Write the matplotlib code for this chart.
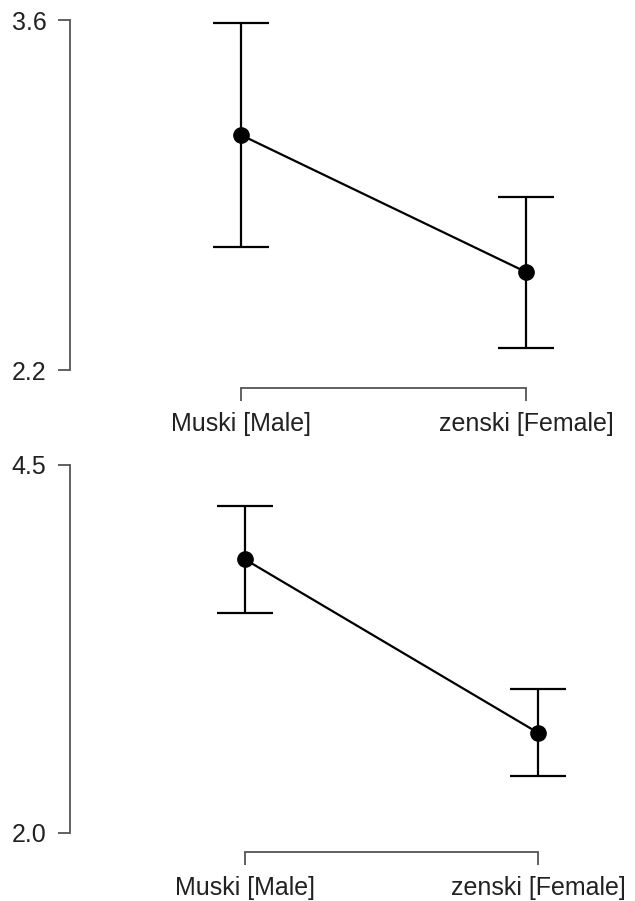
import numpy as np
from matplotlib import pyplot as plt

groups = ["Muski [Male]", "zenski [Female]"]

# panel 1
top_means = [3.14, 2.592]
top_err = [0.448, 0.302]
top_ylim = (2.2, 3.6)

# panel 2
bot_means = [3.859, 2.681]
bot_err = [0.365, 0.295]
bot_ylim = (2.0, 4.5)

W, H = 635, 901
plt.rcParams["font.family"] = ["Liberation Sans", "DejaVu Sans"]

fig = plt.figure(figsize=(W / 100, H / 100), dpi=100)


def px_axes(left, top, right, bottom):
    return fig.add_axes([left / W, 1 - bottom / H, (right - left) / W, (bottom - top) / H])


def panel(ax, means, err, ylim, xlim, outward):
    x = np.arange(1, len(means) + 1)
    ax.errorbar(x, means, yerr=err, fmt="-o", color="black", lw=1.6,
                ms=11, capsize=20, capthick=1.6, elinewidth=1.6, clip_on=False)
    ax.set_xlim(*xlim)
    ax.set_ylim(*ylim)
    for s in ["top", "right"]:
        ax.spines[s].set_visible(False)
    ax.spines["left"].set_bounds(*ylim)
    ax.spines["bottom"].set_bounds(x[0], x[-1])
    ax.spines["bottom"].set_position(("outward", outward))
    for s in ["left", "bottom"]:
        ax.spines[s].set_color("#555555")
        ax.spines[s].set_linewidth(1.3)
    ax.set_yticks(ylim)
    ax.set_yticklabels([f"{v:.1f}" for v in ylim])
    ax.set_xticks(x)
    ax.set_xticklabels(groups)
    ax.tick_params(axis="both", colors="#555555", labelcolor="#222222",
                   labelsize=18, length=9, width=1.3, pad=8)


ax1 = px_axes(70, 20, 620, 370)
panel(ax1, top_means, top_err, top_ylim, (0.4, 2.33), 13)

ax2 = px_axes(70, 465, 620, 833)
panel(ax2, bot_means, bot_err, bot_ylim, (0.403, 2.28), 14)

plt.savefig("out.png", dpi=100)
